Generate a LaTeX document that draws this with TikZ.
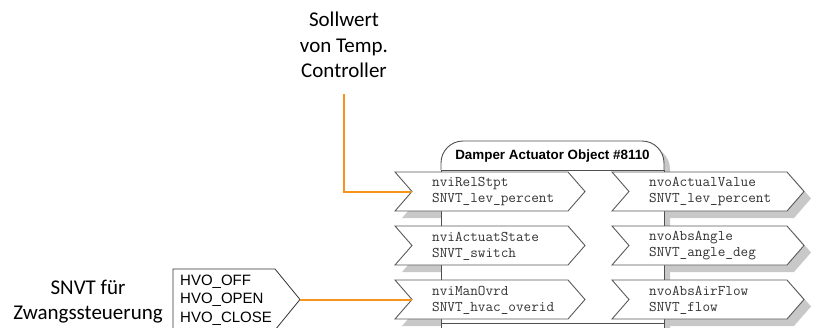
\documentclass[tikz,border=0pt]{standalone}
\usepackage{fontspec}
\setmainfont{Liberation Sans}
\newfontfamily\calibf{Carlito}
\newfontfamily\arialf{Liberation Sans}
\definecolor{shadowgrey}{RGB}{200,200,200}
\definecolor{edgegrey}{RGB}{90,90,90}
\definecolor{framegrey}{RGB}{80,80,80}
\definecolor{orangeline}{RGB}{247,148,30}
\tikzset{
  nvbox/.style={fill=white, draw=edgegrey, line width=0.9pt, line join=miter},
  nvshadow/.style={fill=shadowgrey, draw=none},
  nvtext/.style={anchor=west, inner sep=0pt, align=left, text=black!80,
    font=\ttfamily\fontsize{14.8}{16}\selectfont},
  labeltext/.style={align=center, inner sep=0pt,
    font=\calibf\fontsize{21}{25.3}\selectfont},
  wire/.style={draw=orangeline, line width=2pt}
}
\begin{document}
\begin{tikzpicture}[x=1pt,y=-1pt]
\useasboundingbox (0,0) rectangle (817,327);
% ---------- shadows ----------
\foreach \T in {172,226,280}{
  \fill[nvshadow] (402,\T+7) -- (575,\T+7) -- (592,\T+26.5) -- (575,\T+46) -- (402,\T+46) -- (419,\T+26.5) -- cycle;
  \fill[nvshadow] (619,\T+7) -- (794,\T+7) -- (811,\T+26.5) -- (794,\T+46) -- (619,\T+46) -- (636,\T+26.5) -- cycle;
}
\fill[nvshadow, rounded corners=22pt] (447,340) -- (447,147) -- (670,147) -- (670,340);
% ---------- frame ----------
\fill[white, rounded corners=22pt] (441,340) -- (441,141) -- (664,141) -- (664,340);
\draw[draw=framegrey, line width=0.9pt, rounded corners=22pt] (441,170) -- (441,141) -- (664,141) -- (664,170);
\draw[draw=framegrey, line width=0.9pt] (441,170) -- (664,170);
\draw[draw=framegrey, line width=0.9pt] (441,170) -- (441,340) (664,170) -- (664,340);
\draw[draw=framegrey, line width=0.9pt] (441,323) -- (664,323);
\node[inner sep=0pt, font=\arialf\bfseries\fontsize{13.4}{16}\selectfont] (title) at (552.5,156) {Damper Actuator Object \#8110};
% ---------- input / output boxes ----------
\foreach \T in {172,226,280}{
  \draw[nvbox] (395,\T) -- (568,\T) -- (585,\T+19.5) -- (568,\T+39) -- (395,\T+39) -- (412,\T+19.5) -- cycle;
  \draw[nvbox] (612,\T) -- (787,\T) -- (804,\T+19.5) -- (787,\T+39) -- (612,\T+39) -- (629,\T+19.5) -- cycle;
}
\node[nvtext] (iA) at (432,192) {nviRelStpt\\SNVT\_lev\_percent};
\node[nvtext] (iB) at (432,246) {nviActuatState\\SNVT\_switch};
\node[nvtext] (iC) at (432,300) {nviManOvrd\\SNVT\_hvac\_overid};
\node[nvtext] (oA) at (649,192) {nvoActualValue\\SNVT\_lev\_percent};
\node[nvtext] (oB) at (649,246) {nvoAbsAngle\\SNVT\_angle\_deg};
\node[nvtext] (oC) at (649,300) {nvoAbsAirFlow\\SNVT\_flow};
\coordinate (inA) at (412,191.5);
\coordinate (inC) at (412,299.5);
% ---------- HVO enumeration box ----------
\draw[fill=white, draw=black!80, line width=0.8pt] (173,335) -- (173,269) -- (275,269) -- (300,299.5) -- (275,330) -- (275,335);
\node[anchor=west, inner sep=0pt, align=left, font=\arialf\fontsize{15}{18.3}\selectfont] (hvo) at (180,300) {HVO\_OFF\\HVO\_OPEN\\HVO\_CLOSE};
\coordinate (hvotip) at (300,299.5);
% ---------- labels ----------
\node[labeltext] (sollwert) at (344,45) {Sollwert\\von Temp.\\Controller};
\node[labeltext] (zwang) at (88,301.5) {SNVT f\"ur\\Zwangssteuerung};
\coordinate (swstart) at (344,94);
% ---------- wires ----------
\draw[wire] (swstart) |- (inA);
\draw[wire] (hvotip) -- (inC);
\end{tikzpicture}
\end{document}
